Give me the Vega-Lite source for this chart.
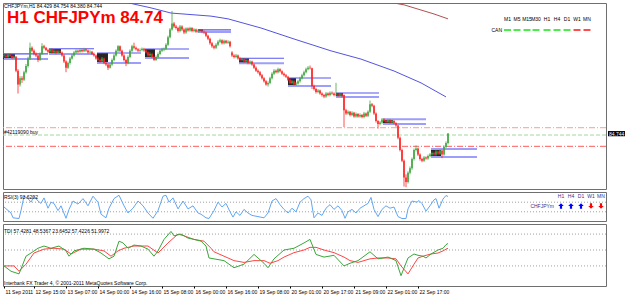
{
"$schema": "https://vega.github.io/schema/vega-lite/v6.json",
"background": "#ffffff",
"padding": {"left": 2, "top": 2, "right": 0, "bottom": 0},
"spacing": 3,
"bounds": "flush",
"config": {
  "view": {"stroke": "#6f6f6f", "strokeWidth": 1},
  "axis": {"labelFont": "Liberation Sans", "labelFontSize": 5, "labelColor": "#000000", "tickColor": "#000000", "domain": false, "grid": false, "labelOverlap": false, "labelFlush": false},
  "text": {"font": "Liberation Sans"},
  "title": {"font": "Liberation Sans", "anchor": "start", "frame": "group", "fontWeight": "normal", "color": "#000000", "fontSize": 5}
},
"datasets": {
"k": [
{"i":0,"o":87.28,"h":87.36,"l":87.22,"c":87.30},{"i":1,"o":87.30,"h":87.34,"l":87.20,"c":87.25},{"i":2,"o":87.25,"h":87.37,"l":87.21,"c":87.32},{"i":3,"o":87.32,"h":87.36,"l":87.24,"c":87.28},{"i":4,"o":87.28,"h":87.31,"l":87.18,"c":87.22},{"i":5,"o":87.22,"h":87.30,"l":87.18,"c":87.26},{"i":6,"o":87.26,"h":87.28,"l":86.75,"c":86.80},{"i":7,"o":86.80,"h":86.85,"l":86.05,"c":86.35},{"i":8,"o":86.35,"h":86.62,"l":86.28,"c":86.55},{"i":9,"o":86.55,"h":86.62,"l":86.40,"c":86.50},
{"i":10,"o":86.50,"h":86.80,"l":86.46,"c":86.75},{"i":11,"o":86.75,"h":87.02,"l":86.70,"c":86.95},{"i":12,"o":86.95,"h":87.26,"l":86.90,"c":87.20},{"i":13,"o":87.20,"h":87.72,"l":87.15,"c":87.55},{"i":14,"o":87.55,"h":87.60,"l":87.40,"c":87.45},{"i":15,"o":87.45,"h":87.50,"l":87.30,"c":87.35},{"i":16,"o":87.35,"h":87.40,"l":87.24,"c":87.30},{"i":17,"o":87.30,"h":87.33,"l":87.08,"c":87.15},{"i":18,"o":87.15,"h":87.40,"l":87.12,"c":87.35},{"i":19,"o":87.35,"h":87.70,"l":87.32,"c":87.60},
{"i":20,"o":87.60,"h":87.65,"l":87.50,"c":87.55},{"i":21,"o":87.55,"h":87.58,"l":87.44,"c":87.48},{"i":22,"o":87.48,"h":87.52,"l":87.38,"c":87.42},{"i":23,"o":87.42,"h":87.54,"l":87.38,"c":87.50},{"i":24,"o":87.50,"h":87.53,"l":87.36,"c":87.40},{"i":25,"o":87.40,"h":87.50,"l":87.36,"c":87.45},{"i":26,"o":87.45,"h":87.48,"l":87.34,"c":87.38},{"i":27,"o":87.38,"h":87.48,"l":87.35,"c":87.44},{"i":28,"o":87.44,"h":87.47,"l":87.36,"c":87.40},{"i":29,"o":87.40,"h":87.43,"l":87.26,"c":87.30},
{"i":30,"o":87.30,"h":87.33,"l":87.05,"c":87.10},{"i":31,"o":87.10,"h":87.14,"l":86.75,"c":86.90},{"i":32,"o":86.90,"h":87.10,"l":86.86,"c":87.05},{"i":33,"o":87.05,"h":87.25,"l":87.00,"c":87.20},{"i":34,"o":87.20,"h":87.35,"l":87.16,"c":87.30},{"i":35,"o":87.30,"h":87.45,"l":87.26,"c":87.40},{"i":36,"o":87.40,"h":87.50,"l":87.36,"c":87.45},{"i":37,"o":87.45,"h":87.49,"l":87.38,"c":87.42},{"i":38,"o":87.42,"h":87.53,"l":87.39,"c":87.48},{"i":39,"o":87.48,"h":87.52,"l":87.40,"c":87.44},
{"i":40,"o":87.44,"h":87.55,"l":87.41,"c":87.50},{"i":41,"o":87.50,"h":87.53,"l":87.42,"c":87.46},{"i":42,"o":87.46,"h":87.49,"l":87.36,"c":87.40},{"i":43,"o":87.40,"h":87.47,"l":87.37,"c":87.42},{"i":44,"o":87.42,"h":87.45,"l":87.31,"c":87.35},{"i":45,"o":87.35,"h":87.39,"l":87.26,"c":87.30},{"i":46,"o":87.30,"h":87.33,"l":87.16,"c":87.20},{"i":47,"o":87.20,"h":87.25,"l":87.10,"c":87.15},{"i":48,"o":87.15,"h":87.19,"l":87.06,"c":87.10},{"i":49,"o":87.10,"h":87.25,"l":87.07,"c":87.20},
{"i":50,"o":87.20,"h":87.23,"l":87.01,"c":87.05},{"i":51,"o":87.05,"h":87.09,"l":86.95,"c":87.00},{"i":52,"o":87.00,"h":87.04,"l":86.82,"c":86.90},{"i":53,"o":86.90,"h":87.05,"l":86.87,"c":87.00},{"i":54,"o":87.00,"h":87.20,"l":86.96,"c":87.15},{"i":55,"o":87.15,"h":87.35,"l":87.11,"c":87.30},{"i":56,"o":87.30,"h":87.50,"l":87.26,"c":87.45},{"i":57,"o":87.45,"h":87.64,"l":87.41,"c":87.60},{"i":58,"o":87.60,"h":87.63,"l":87.41,"c":87.45},{"i":59,"o":87.45,"h":87.49,"l":87.26,"c":87.30},
{"i":60,"o":87.30,"h":87.34,"l":87.10,"c":87.15},{"i":61,"o":87.15,"h":87.19,"l":86.95,"c":87.05},{"i":62,"o":87.05,"h":87.30,"l":87.01,"c":87.25},{"i":63,"o":87.25,"h":87.50,"l":87.21,"c":87.45},{"i":64,"o":87.45,"h":87.65,"l":87.41,"c":87.60},{"i":65,"o":87.60,"h":87.72,"l":87.50,"c":87.55},{"i":66,"o":87.55,"h":87.59,"l":87.46,"c":87.50},{"i":67,"o":87.50,"h":87.54,"l":87.41,"c":87.45},{"i":68,"o":87.45,"h":87.53,"l":87.41,"c":87.48},{"i":69,"o":87.48,"h":87.56,"l":87.44,"c":87.52},
{"i":70,"o":87.52,"h":87.55,"l":87.42,"c":87.46},{"i":71,"o":87.46,"h":87.50,"l":87.36,"c":87.40},{"i":72,"o":87.40,"h":87.43,"l":87.26,"c":87.30},{"i":73,"o":87.30,"h":87.40,"l":87.26,"c":87.35},{"i":74,"o":87.35,"h":87.38,"l":87.21,"c":87.25},{"i":75,"o":87.25,"h":87.28,"l":87.12,"c":87.15},{"i":76,"o":87.15,"h":87.30,"l":87.12,"c":87.25},{"i":77,"o":87.25,"h":87.40,"l":87.21,"c":87.35},{"i":78,"o":87.35,"h":87.50,"l":87.31,"c":87.45},{"i":79,"o":87.45,"h":87.55,"l":87.41,"c":87.50},
{"i":80,"o":87.50,"h":87.56,"l":87.44,"c":87.52},{"i":81,"o":87.52,"h":87.70,"l":87.48,"c":87.65},{"i":82,"o":87.65,"h":87.95,"l":87.61,"c":87.90},{"i":83,"o":87.90,"h":88.20,"l":87.86,"c":88.15},{"i":84,"o":88.15,"h":88.76,"l":88.11,"c":88.35},{"i":85,"o":88.35,"h":88.40,"l":88.20,"c":88.25},{"i":86,"o":88.25,"h":88.30,"l":88.15,"c":88.20},{"i":87,"o":88.20,"h":88.24,"l":88.05,"c":88.10},{"i":88,"o":88.10,"h":88.30,"l":88.06,"c":88.25},{"i":89,"o":88.25,"h":88.29,"l":88.10,"c":88.15},
{"i":90,"o":88.15,"h":88.19,"l":88.00,"c":88.05},{"i":91,"o":88.05,"h":88.22,"l":88.01,"c":88.18},{"i":92,"o":88.18,"h":88.22,"l":88.08,"c":88.12},{"i":93,"o":88.12,"h":88.24,"l":88.08,"c":88.20},{"i":94,"o":88.20,"h":88.23,"l":88.06,"c":88.10},{"i":95,"o":88.10,"h":88.19,"l":88.06,"c":88.15},{"i":96,"o":88.15,"h":88.18,"l":88.04,"c":88.08},{"i":97,"o":88.08,"h":88.16,"l":88.04,"c":88.12},{"i":98,"o":88.12,"h":88.15,"l":88.06,"c":88.10},{"i":99,"o":88.10,"h":88.14,"l":88.03,"c":88.08},
{"i":100,"o":88.08,"h":88.12,"l":88.00,"c":88.05},{"i":101,"o":88.05,"h":88.08,"l":87.90,"c":87.95},{"i":102,"o":87.95,"h":87.98,"l":87.80,"c":87.85},{"i":103,"o":87.85,"h":87.88,"l":87.65,"c":87.70},{"i":104,"o":87.70,"h":87.74,"l":87.55,"c":87.60},{"i":105,"o":87.60,"h":87.64,"l":87.50,"c":87.55},{"i":106,"o":87.55,"h":87.70,"l":87.51,"c":87.65},{"i":107,"o":87.65,"h":87.80,"l":87.61,"c":87.75},{"i":108,"o":87.75,"h":87.85,"l":87.71,"c":87.80},{"i":109,"o":87.80,"h":87.83,"l":87.66,"c":87.70},
{"i":110,"o":87.70,"h":87.82,"l":87.66,"c":87.78},{"i":111,"o":87.78,"h":87.81,"l":87.68,"c":87.72},{"i":112,"o":87.72,"h":87.80,"l":87.68,"c":87.75},{"i":113,"o":87.75,"h":87.78,"l":87.56,"c":87.60},{"i":114,"o":87.40,"h":87.44,"l":87.25,"c":87.30},{"i":115,"o":87.30,"h":87.34,"l":87.20,"c":87.25},{"i":116,"o":87.25,"h":87.35,"l":87.21,"c":87.30},{"i":117,"o":87.30,"h":87.33,"l":87.16,"c":87.20},{"i":118,"o":87.20,"h":87.24,"l":87.10,"c":87.15},{"i":119,"o":87.15,"h":87.22,"l":87.11,"c":87.18},
{"i":120,"o":87.18,"h":87.21,"l":87.06,"c":87.10},{"i":121,"o":87.10,"h":87.19,"l":87.06,"c":87.15},{"i":122,"o":87.15,"h":87.18,"l":87.01,"c":87.05},{"i":123,"o":87.05,"h":87.14,"l":87.01,"c":87.10},{"i":124,"o":87.10,"h":87.13,"l":86.96,"c":87.00},{"i":125,"o":87.00,"h":87.03,"l":86.86,"c":86.90},{"i":126,"o":86.90,"h":86.94,"l":86.76,"c":86.80},{"i":127,"o":86.80,"h":86.84,"l":86.70,"c":86.75},{"i":128,"o":86.75,"h":86.79,"l":86.61,"c":86.65},{"i":129,"o":86.65,"h":86.69,"l":86.51,"c":86.55},
{"i":130,"o":86.55,"h":86.59,"l":86.41,"c":86.45},{"i":131,"o":86.45,"h":86.49,"l":86.31,"c":86.35},{"i":132,"o":86.35,"h":86.45,"l":86.28,"c":86.40},{"i":133,"o":86.40,"h":86.60,"l":86.36,"c":86.55},{"i":134,"o":86.55,"h":86.75,"l":86.51,"c":86.70},{"i":135,"o":86.70,"h":86.85,"l":86.66,"c":86.80},{"i":136,"o":86.80,"h":86.84,"l":86.71,"c":86.75},{"i":137,"o":86.75,"h":86.90,"l":86.71,"c":86.85},{"i":138,"o":86.85,"h":86.88,"l":86.74,"c":86.78},{"i":139,"o":86.78,"h":86.81,"l":86.66,"c":86.70},
{"i":140,"o":86.70,"h":86.74,"l":86.61,"c":86.65},{"i":141,"o":86.65,"h":86.69,"l":86.56,"c":86.60},{"i":142,"o":86.60,"h":86.63,"l":86.46,"c":86.50},{"i":143,"o":86.50,"h":86.54,"l":86.36,"c":86.40},{"i":144,"o":86.40,"h":86.50,"l":86.36,"c":86.45},{"i":145,"o":86.45,"h":86.48,"l":86.31,"c":86.35},{"i":146,"o":86.35,"h":86.43,"l":86.31,"c":86.38},{"i":147,"o":86.38,"h":86.50,"l":86.34,"c":86.45},{"i":148,"o":86.45,"h":86.60,"l":86.41,"c":86.55},{"i":149,"o":86.55,"h":86.70,"l":86.51,"c":86.65},
{"i":150,"o":86.65,"h":86.80,"l":86.61,"c":86.75},{"i":151,"o":86.75,"h":86.90,"l":86.71,"c":86.85},{"i":152,"o":86.85,"h":86.95,"l":86.81,"c":86.90},{"i":153,"o":86.90,"h":86.97,"l":86.84,"c":86.88},{"i":154,"o":86.88,"h":86.90,"l":86.20,"c":86.30},{"i":155,"o":86.30,"h":86.34,"l":86.15,"c":86.20},{"i":156,"o":86.20,"h":86.24,"l":86.05,"c":86.10},{"i":157,"o":86.10,"h":86.20,"l":86.06,"c":86.15},{"i":158,"o":86.15,"h":86.18,"l":86.01,"c":86.05},{"i":159,"o":86.05,"h":86.09,"l":85.95,"c":86.00},
{"i":160,"o":86.00,"h":86.04,"l":85.90,"c":85.95},{"i":161,"o":85.95,"h":86.10,"l":85.91,"c":86.05},{"i":162,"o":86.05,"h":86.09,"l":85.96,"c":86.00},{"i":163,"o":86.00,"h":86.12,"l":85.96,"c":86.08},{"i":164,"o":86.08,"h":86.12,"l":86.01,"c":86.05},{"i":165,"o":86.05,"h":86.09,"l":85.96,"c":86.00},{"i":166,"o":86.00,"h":86.40,"l":85.96,"c":86.02},{"i":167,"o":86.02,"h":86.06,"l":85.94,"c":85.98},{"i":168,"o":85.98,"h":86.07,"l":85.94,"c":86.03},{"i":169,"o":86.03,"h":86.06,"l":85.92,"c":85.96},
{"i":170,"o":86.00,"h":86.02,"l":84.95,"c":85.50},{"i":171,"o":85.50,"h":85.55,"l":85.35,"c":85.40},{"i":172,"o":85.40,"h":85.50,"l":85.36,"c":85.45},{"i":173,"o":85.45,"h":85.48,"l":85.30,"c":85.35},{"i":174,"o":85.35,"h":85.47,"l":85.31,"c":85.42},{"i":175,"o":85.42,"h":85.45,"l":85.26,"c":85.30},{"i":176,"o":85.30,"h":85.43,"l":85.26,"c":85.38},{"i":177,"o":85.38,"h":85.41,"l":85.26,"c":85.30},{"i":178,"o":85.30,"h":85.40,"l":85.26,"c":85.35},{"i":179,"o":85.35,"h":85.38,"l":85.24,"c":85.28},
{"i":180,"o":85.28,"h":85.45,"l":85.24,"c":85.40},{"i":181,"o":85.40,"h":85.43,"l":85.28,"c":85.32},{"i":182,"o":85.32,"h":85.50,"l":85.28,"c":85.45},{"i":183,"o":85.45,"h":85.82,"l":85.41,"c":85.70},{"i":184,"o":85.70,"h":85.74,"l":85.60,"c":85.65},{"i":185,"o":85.65,"h":85.68,"l":85.35,"c":85.40},{"i":186,"o":85.40,"h":85.43,"l":85.10,"c":85.15},{"i":187,"o":85.15,"h":85.18,"l":84.90,"c":85.05},{"i":188,"o":85.05,"h":85.15,"l":85.01,"c":85.10},{"i":189,"o":85.10,"h":85.25,"l":85.06,"c":85.20},
{"i":190,"o":85.20,"h":85.24,"l":85.11,"c":85.15},{"i":191,"o":85.15,"h":85.19,"l":85.08,"c":85.12},{"i":192,"o":85.12,"h":85.22,"l":85.08,"c":85.18},{"i":193,"o":85.18,"h":85.21,"l":85.06,"c":85.10},{"i":194,"o":85.10,"h":85.19,"l":85.06,"c":85.15},{"i":195,"o":85.15,"h":85.18,"l":85.04,"c":85.08},{"i":196,"o":85.08,"h":85.11,"l":84.96,"c":85.00},{"i":197,"o":85.00,"h":85.03,"l":84.55,"c":84.60},{"i":198,"o":84.60,"h":84.64,"l":84.15,"c":84.20},{"i":199,"o":84.20,"h":84.24,"l":83.80,"c":83.85},
{"i":200,"o":83.85,"h":83.89,"l":83.00,"c":83.30},{"i":201,"o":83.30,"h":83.40,"l":82.98,"c":83.15},{"i":202,"o":83.15,"h":83.50,"l":83.10,"c":83.45},{"i":203,"o":83.45,"h":83.66,"l":83.40,"c":83.60},{"i":204,"o":83.60,"h":83.95,"l":83.55,"c":83.90},{"i":205,"o":83.90,"h":84.25,"l":83.85,"c":84.20},{"i":206,"o":84.20,"h":84.35,"l":84.15,"c":84.25},{"i":207,"o":84.25,"h":84.28,"l":84.00,"c":84.05},{"i":208,"o":84.05,"h":84.09,"l":83.85,"c":83.90},{"i":209,"o":83.90,"h":83.94,"l":83.80,"c":83.85},
{"i":210,"o":83.85,"h":84.00,"l":83.81,"c":83.95},{"i":211,"o":83.95,"h":83.99,"l":83.88,"c":83.92},{"i":212,"o":83.92,"h":84.05,"l":83.88,"c":84.00},{"i":213,"o":84.00,"h":84.10,"l":83.96,"c":84.05},{"i":214,"o":84.05,"h":84.15,"l":84.01,"c":84.10},{"i":215,"o":84.10,"h":84.14,"l":84.01,"c":84.05},{"i":216,"o":84.05,"h":84.20,"l":84.01,"c":84.15},{"i":217,"o":84.15,"h":84.18,"l":84.04,"c":84.08},{"i":218,"o":84.08,"h":84.22,"l":84.04,"c":84.18},{"i":219,"o":84.18,"h":84.21,"l":83.93,"c":84.05},
{"i":220,"o":84.05,"h":84.35,"l":84.01,"c":84.30},{"i":221,"o":84.30,"h":84.48,"l":84.26,"c":84.43},{"i":222,"o":84.429,"h":84.754,"l":84.38,"c":84.744}
],
"bx": [
{"a":-0.5,"b":5.5,"lo":87.18,"hi":87.35},{"a":22.5,"b":28.5,"lo":87.35,"hi":87.51},{"a":46.5,"b":52,"lo":87.05,"hi":87.38},{"a":70.5,"b":75.5,"lo":87.22,"hi":87.51},{"a":97,"b":99.5,"lo":88.04,"hi":88.16},{"a":117.5,"b":122.5,"lo":87.02,"hi":87.21},{"a":142,"b":146,"lo":86.30,"hi":86.56},{"a":166,"b":169.5,"lo":85.94,"hi":86.07},{"a":189.5,"b":194.5,"lo":85.05,"hi":85.21},{"a":213.5,"b":218.5,"lo":83.97,"hi":84.23}
],
"bl": [
{"a":0,"b":22,"p":87.35,"t":"u"},{"a":0,"b":22,"p":87.18,"t":"l"},
{"a":22.5,"b":45,"p":87.52,"t":"u"},{"a":22.5,"b":45,"p":87.35,"t":"l"},
{"a":46.5,"b":68.5,"p":87.38,"t":"u"},{"a":46.5,"b":68.5,"p":87.05,"t":"l"},
{"a":70.5,"b":92.5,"p":87.51,"t":"u"},{"a":70.5,"b":92.5,"p":87.22,"t":"l"},
{"a":97,"b":113.5,"p":88.14,"t":"u"},{"a":97,"b":113.5,"p":88.07,"t":"l"},
{"a":117.5,"b":140,"p":87.21,"t":"u"},{"a":117.5,"b":140,"p":87.04,"t":"l"},
{"a":142,"b":163.5,"p":86.56,"t":"u"},{"a":142,"b":163.5,"p":86.30,"t":"l"},
{"a":166,"b":187.5,"p":86.07,"t":"u"},{"a":166,"b":187.5,"p":85.94,"t":"l"},
{"a":189.5,"b":211,"p":85.21,"t":"l"},{"a":189.5,"b":211,"p":85.05,"t":"l"},
{"a":213.5,"b":236.5,"p":84.23,"t":"l"},{"a":213.5,"b":236.5,"p":83.97,"t":"l"}
],
"ma": [
{"i":60,"p":89.10,"s":"b"},{"i":62.5,"p":89.02,"s":"b"},{"i":73.5,"p":88.86,"s":"b"},{"i":83.5,"p":88.69,"s":"b"},{"i":103.5,"p":88.59,"s":"b"},{"i":112,"p":88.50,"s":"b"},{"i":128.5,"p":88.20,"s":"b"},{"i":145,"p":87.84,"s":"b"},{"i":163.5,"p":87.45,"s":"b"},{"i":178.5,"p":87.18,"s":"b"},{"i":195,"p":86.79,"s":"b"},{"i":208.5,"p":86.40,"s":"b"},{"i":221,"p":85.94,"s":"b"},
{"i":188,"p":89.10,"s":"r"},{"i":200,"p":88.96,"s":"r"},{"i":208,"p":88.80,"s":"r"},{"i":215,"p":88.66,"s":"r"},{"i":222,"p":88.50,"s":"r"}
],
"hl": [{"p":84.93,"k":"a"},{"p":84.69,"k":"b"},{"p":84.32,"k":"c"}],
"tf": [
{"n":"M1","i":251.75,"c":"g"},{"n":"M5","i":256.5,"c":"g"},{"n":"M15","i":261.5,"c":"g"},{"n":"M30","i":266,"c":"g"},{"n":"H1","i":271.5,"c":"g"},{"n":"H4","i":276.5,"c":"g"},{"n":"D1","i":281.5,"c":"g"},{"n":"W1","i":286.5,"c":"r"},{"n":"MN","i":291.5,"c":"r"}
],
"rtf": [
{"n":"H1","i":278.5,"d":"up"},{"n":"H4","i":283.5,"d":"up"},{"n":"D1","i":288.5,"d":"up"},{"n":"W1","i":293.5,"d":"dn"},{"n":"MN","i":298.5,"d":"dn"}
],
"rsi": [
{"i":0,"v":50},{"i":3.5,"v":25},{"i":4.5,"v":5},{"i":7.5,"v":2},{"i":8.5,"v":35},{"i":10,"v":95},{"i":12,"v":85},{"i":13.5,"v":70},{"i":15,"v":95},{"i":17,"v":75},{"i":18.5,"v":65},{"i":20,"v":88},{"i":22,"v":45},{"i":23.5,"v":70},{"i":25,"v":65},{"i":27,"v":35},{"i":28.5,"v":55},{"i":31,"v":3},{"i":32.5,"v":40},{"i":34.5,"v":75},{"i":37,"v":62},{"i":39.5,"v":85},{"i":42,"v":55},{"i":44.5,"v":95},{"i":47,"v":70},{"i":48.5,"v":20},{"i":51,"v":5},{"i":52.5,"v":45},{"i":55,"v":85},{"i":57.5,"v":99},{"i":60,"v":55},{"i":62,"v":25},{"i":64.5,"v":45},{"i":67,"v":75},{"i":69.5,"v":55},{"i":72,"v":25},{"i":74.5,"v":3},{"i":77,"v":35},{"i":79.5,"v":95},{"i":81,"v":99},{"i":82.5,"v":70},{"i":84.5,"v":88},{"i":87,"v":42},{"i":89.5,"v":75},{"i":92,"v":42},{"i":94.5,"v":55},{"i":97,"v":25},{"i":98.5,"v":20},{"i":101,"v":5},{"i":102.5,"v":2},
{"i":105,"v":35},{"i":107,"v":70},{"i":109,"v":50},{"i":111,"v":65},{"i":113,"v":30},{"i":114.5,"v":8},{"i":116,"v":30},{"i":118,"v":15},{"i":120,"v":40},{"i":122,"v":25},{"i":124,"v":15},{"i":127,"v":10},{"i":130,"v":5},{"i":132,"v":25},{"i":134,"v":75},{"i":136,"v":85},{"i":138,"v":60},{"i":140,"v":40},{"i":142,"v":25},{"i":144,"v":45},{"i":146,"v":30},{"i":148,"v":70},{"i":150,"v":85},{"i":152,"v":95},{"i":153.5,"v":80},{"i":155,"v":5},{"i":157,"v":25},{"i":159,"v":15},{"i":161,"v":45},{"i":163,"v":60},{"i":165,"v":40},{"i":167,"v":55},{"i":169,"v":35},{"i":170.5,"v":3},{"i":172,"v":30},{"i":174,"v":40},{"i":176,"v":25},{"i":178,"v":45},{"i":180,"v":55},{"i":182,"v":65},{"i":183.5,"v":90},{"i":185,"v":40},{"i":187,"v":10},{"i":189,"v":40},{"i":191,"v":55},{"i":193,"v":45},{"i":195,"v":50},{"i":197,"v":10},{"i":199,"v":2},{"i":201,"v":2},
{"i":202,"v":42},{"i":204,"v":75},{"i":206.5,"v":70},{"i":207.5,"v":77},{"i":209,"v":64},{"i":211,"v":33},{"i":213,"v":55},{"i":215,"v":80},{"i":216,"v":85},{"i":217.5,"v":45},{"i":219.5,"v":83},{"i":221,"v":98},{"i":222,"v":93.6}
],
"tg": [
{"i":0,"v":32},{"i":3.5,"v":26},{"i":7.5,"v":23},{"i":8.5,"v":28.6},{"i":11,"v":43},{"i":13.5,"v":46.6},{"i":17,"v":52},{"i":20,"v":54.5},{"i":23.5,"v":52},{"i":27.5,"v":54.5},{"i":31,"v":49},{"i":32.5,"v":43},{"i":35,"v":49},{"i":40,"v":52},{"i":45,"v":51},{"i":48.5,"v":46.6},{"i":52.5,"v":40},{"i":55,"v":43},{"i":57.5,"v":60},{"i":59.5,"v":58},{"i":62,"v":52},{"i":65,"v":55.6},{"i":68.5,"v":54.5},{"i":72,"v":51},{"i":75,"v":43},{"i":77,"v":49},{"i":80,"v":62},{"i":83.5,"v":71},{"i":85,"v":66},{"i":88.5,"v":68},{"i":92,"v":63.5},{"i":95,"v":62},{"i":98.5,"v":60},{"i":101,"v":54.5},{"i":102.5,"v":41},{"i":105,"v":40},{"i":110,"v":38},{"i":115,"v":30},{"i":120,"v":34},{"i":125,"v":45},{"i":130,"v":35},{"i":132,"v":30},{"i":135,"v":40},{"i":140,"v":50},{"i":145,"v":52},{"i":150,"v":58},{"i":153,"v":62},{"i":156,"v":45},{"i":160,"v":42},{"i":165,"v":44},{"i":170,"v":32},{"i":173,"v":35},{"i":177,"v":38},{"i":183,"v":48},{"i":187,"v":40},{"i":192,"v":42},{"i":196,"v":38},{"i":198.5,"v":21},{"i":202,"v":41},{"i":205,"v":45.5},{"i":207,"v":44},{"i":209.5,"v":43},{"i":211,"v":41},{"i":213.5,"v":45.5},{"i":217,"v":50},{"i":219.5,"v":52},{"i":221,"v":56},{"i":222,"v":57.4}
],
"tr": [
{"i":0,"v":32},{"i":5,"v":32},{"i":7.5,"v":26},{"i":11,"v":34},{"i":15,"v":46.6},{"i":20,"v":51},{"i":25,"v":52},{"i":30,"v":51},{"i":33.5,"v":45.5},{"i":38.5,"v":51},{"i":45,"v":51},{"i":50,"v":49},{"i":53.5,"v":43},{"i":57,"v":49},{"i":60,"v":52},{"i":65,"v":54.5},{"i":72,"v":54.5},{"i":77,"v":46.6},{"i":82,"v":58},{"i":87,"v":68},{"i":90,"v":66},{"i":95,"v":62},{"i":100,"v":60},{"i":103.5,"v":52},{"i":105,"v":48},{"i":110,"v":43},{"i":115,"v":38},{"i":120,"v":36},{"i":125,"v":38},{"i":130,"v":38},{"i":133,"v":35},{"i":137,"v":38},{"i":140,"v":42},{"i":145,"v":47},{"i":150,"v":50},{"i":153,"v":53},{"i":156,"v":53},{"i":160,"v":50},{"i":165,"v":47},{"i":170,"v":42},{"i":173,"v":38},{"i":177,"v":36},{"i":183,"v":40},{"i":187,"v":41},{"i":192,"v":41},{"i":196,"v":40},{"i":198.5,"v":32},{"i":202,"v":23},{"i":205,"v":34},{"i":207,"v":41},{"i":209.5,"v":43},{"i":211,"v":44},{"i":213.5,"v":45.5},{"i":217,"v":46.6},{"i":219.5,"v":49},{"i":221,"v":51},{"i":222,"v":52}
]
},
"vconcat": [
{
 "width": 603, "height": 186,
 "title": {"text": "H1 CHFJPYm 84.74", "offset": -23.5, "dx": 4, "fontSize": 17, "fontWeight": "bold", "color": "#ff0000"},
 "resolve": {"scale": {"color": "independent", "strokeDash": "independent", "strokeWidth": "independent"}},
 "layer": [
  {"data": {"name": "hl"}, "mark": {"type": "rule", "strokeWidth": 1},
   "encoding": {
    "y": {"field": "p", "type": "quantitative", "scale": {"domain": [82.92, 89.02], "nice": false, "zero": false},
          "axis": {"orient": "right", "values": [88.67, 88.16, 87.635, 87.11, 86.585, 86.06, 85.55, 85.025, 84.5, 83.975, 83.45, 82.94], "format": ".3f", "tickSize": 2, "labelPadding": 1, "title": null}},
    "color": {"field": "k", "type": "nominal", "scale": {"domain": ["a", "b", "c"], "range": ["#ff9a9a", "#9fd89f", "#ff5a5a"]}, "legend": null},
    "strokeDash": {"field": "k", "type": "nominal", "scale": {"domain": ["a", "b", "c"], "range": [[6, 2, 1, 2], [4, 2], [6, 2, 1, 2]]}, "legend": null}
   }},
  {"data": {"name": "bx"}, "mark": {"type": "rect", "fill": "#262626"},
   "encoding": {
    "x": {"field": "a", "type": "quantitative", "scale": {"domain": [-0.5, 301], "nice": false, "zero": false}, "axis": null},
    "x2": {"field": "b"},
    "y": {"field": "lo", "type": "quantitative", "scale": {"domain": [82.92, 89.02], "nice": false, "zero": false}, "axis": null},
    "y2": {"field": "hi"}
   }},
  {"data": {"name": "bl"}, "mark": {"type": "rule"},
   "encoding": {
    "x": {"field": "a", "type": "quantitative", "scale": {"domain": [-0.5, 301], "nice": false, "zero": false}, "axis": null},
    "x2": {"field": "b"},
    "y": {"field": "p", "type": "quantitative", "scale": {"domain": [82.92, 89.02], "nice": false, "zero": false}, "axis": null},
    "color": {"field": "t", "type": "nominal", "scale": {"domain": ["u", "l"], "range": ["#5656f2", "#9d9dfb"]}, "legend": null},
    "strokeWidth": {"field": "t", "type": "nominal", "scale": {"domain": ["u", "l"], "range": [1.1, 2]}, "legend": null}
   }},
  {"data": {"name": "ma"}, "mark": {"type": "line", "clip": true, "strokeWidth": 1},
   "encoding": {
    "x": {"field": "i", "type": "quantitative", "scale": {"domain": [-0.5, 301], "nice": false, "zero": false}, "axis": null},
    "y": {"field": "p", "type": "quantitative", "scale": {"domain": [82.92, 89.02], "nice": false, "zero": false}, "axis": null},
    "color": {"field": "s", "type": "nominal", "scale": {"domain": ["b", "r"], "range": ["#5353e0", "#b05050"]}, "legend": null}
   }},
  {"data": {"name": "k"}, "mark": {"type": "rule", "strokeWidth": 0.8},
   "encoding": {
    "x": {"field": "i", "type": "quantitative", "scale": {"domain": [-0.5, 301], "nice": false, "zero": false}, "axis": null},
    "y": {"field": "l", "type": "quantitative", "scale": {"domain": [82.92, 89.02], "nice": false, "zero": false}, "axis": null},
    "y2": {"field": "h"},
    "color": {"condition": {"test": "datum.c >= datum.o", "value": "#3fa63f"}, "value": "#ff2424"}
   }},
  {"data": {"name": "k"}, "mark": {"type": "rule", "strokeWidth": 1.6},
   "encoding": {
    "x": {"field": "i", "type": "quantitative", "scale": {"domain": [-0.5, 301], "nice": false, "zero": false}, "axis": null},
    "y": {"field": "o", "type": "quantitative", "scale": {"domain": [82.92, 89.02], "nice": false, "zero": false}, "axis": null},
    "y2": {"field": "c"},
    "color": {"condition": {"test": "datum.c >= datum.o", "value": "#3fa63f"}, "value": "#ff2424"}
   }},
  {"data": {"values": [{"t": "CHFJPYm,H1  84.429 84.754 84.380 84.744"}]}, "mark": {"type": "text", "align": "left", "baseline": "alphabetic", "fontSize": 5, "color": "#000000"},
   "encoding": {"x": {"datum": 0, "type": "quantitative"}, "y": {"datum": 88.86, "type": "quantitative"}, "text": {"field": "t"}}},
  {"data": {"values": [{"t": "#42119090 buy"}]}, "mark": {"type": "text", "align": "left", "baseline": "alphabetic", "fontSize": 5, "color": "#000000"},
   "encoding": {"x": {"datum": 0, "type": "quantitative"}, "y": {"datum": 84.71, "type": "quantitative"}, "text": {"field": "t"}}},
  {"data": {"name": "tf"}, "mark": {"type": "text", "align": "center", "baseline": "middle", "fontSize": 5, "color": "#000000"},
   "encoding": {"x": {"field": "i", "type": "quantitative"}, "y": {"datum": 88.506, "type": "quantitative"}, "text": {"field": "n"}}},
  {"data": {"name": "tf"}, "mark": {"type": "tick", "orient": "horizontal", "size": 7, "thickness": 2},
   "encoding": {"x": {"field": "i", "type": "quantitative"}, "y": {"datum": 88.135, "type": "quantitative"},
    "color": {"field": "c", "type": "nominal", "scale": {"domain": ["g", "r"], "range": ["#00e400", "#ff0000"]}, "legend": null}}},
  {"data": {"values": [{"t": "CAN"}]}, "mark": {"type": "text", "align": "right", "baseline": "middle", "fontSize": 5, "color": "#000000"},
   "encoding": {"x": {"datum": 249, "type": "quantitative"}, "y": {"datum": 88.135, "type": "quantitative"}, "text": {"field": "t"}}},
  {"data": {"values": [{"t": "84.744"}]}, "mark": {"type": "rect", "fill": "#000000", "clip": false},
   "encoding": {"x": {"datum": 302, "type": "quantitative"}, "x2": {"datum": 311.5}, "y": {"datum": 84.82, "type": "quantitative"}, "y2": {"datum": 84.65}}},
  {"data": {"values": [{"t": "84.744"}]}, "mark": {"type": "text", "align": "left", "baseline": "middle", "fontSize": 5, "color": "#ffffff", "clip": false},
   "encoding": {"x": {"datum": 302.5, "type": "quantitative"}, "y": {"datum": 84.735, "type": "quantitative"}, "text": {"field": "t"}}}
 ]
},
{
 "width": 603, "height": 29,
 "title": {"text": "RSI(3) 93.6202", "offset": -8, "dx": 1},
 "layer": [
  {"data": {"values": [{"v": 70}, {"v": 30}]}, "mark": {"type": "rule", "strokeDash": [1, 2], "color": "#a0a0a0", "strokeWidth": 1},
   "encoding": {"y": {"field": "v", "type": "quantitative", "scale": {"domain": [-8.3, 112.5], "nice": false, "zero": false},
     "axis": {"orient": "right", "values": [100, 70, 30, 0], "tickSize": 2, "labelPadding": 1, "title": null}}}},
  {"data": {"name": "rsi"}, "mark": {"type": "line", "strokeWidth": 1, "color": "#62a6f4", "clip": true},
   "encoding": {
    "x": {"field": "i", "type": "quantitative", "scale": {"domain": [-0.5, 301], "nice": false, "zero": false}, "axis": null},
    "y": {"field": "v", "type": "quantitative", "scale": {"domain": [-8.3, 112.5], "nice": false, "zero": false}, "axis": null}
   }},
  {"data": {"name": "rtf"}, "mark": {"type": "text", "align": "center", "baseline": "middle", "fontSize": 5, "color": "#33338f"},
   "encoding": {"x": {"field": "i", "type": "quantitative"}, "y": {"datum": 96, "type": "quantitative"}, "text": {"field": "n"}}},
  {"data": {"name": "rtf"}, "mark": {"type": "point", "filled": true, "size": 30, "opacity": 1},
   "encoding": {"x": {"field": "i", "type": "quantitative"}, "y": {"datum": 54, "type": "quantitative"},
    "shape": {"field": "d", "type": "nominal", "scale": {"domain": ["up", "dn"], "range": ["M0,-1L1,0L0.4,0L0.4,1L-0.4,1L-0.4,0L-1,0Z", "M0,1L1,0L0.4,0L0.4,-1L-0.4,-1L-0.4,0L-1,0Z"]}, "legend": null},
    "color": {"field": "d", "type": "nominal", "scale": {"domain": ["up", "dn"], "range": ["#0000ff", "#ff0000"]}, "legend": null}}},
  {"data": {"values": [{"t": "CHFJPYm"}]}, "mark": {"type": "text", "align": "right", "baseline": "middle", "fontSize": 5, "color": "#33338f"},
   "encoding": {"x": {"datum": 275, "type": "quantitative"}, "y": {"datum": 54, "type": "quantitative"}, "text": {"field": "t"}}}
 ]
},
{
 "width": 603, "height": 62,
 "title": {"text": "TDI 57.4281 48.5367 23.6452 57.4226 51.9972", "offset": -9.5, "dx": 1},
 "layer": [
  {"data": {"values": [{"v": 68}, {"v": 50}, {"v": 32}]}, "mark": {"type": "rule", "strokeDash": [1, 2], "color": "#a0a0a0", "strokeWidth": 1},
   "encoding": {"y": {"field": "v", "type": "quantitative", "scale": {"domain": [9.32, 79.4], "nice": false, "zero": false},
     "axis": {"orient": "right", "values": [78.2644, 68, 50, 32, 9.3208], "labelExpr": "'' + datum.value", "tickSize": 2, "labelPadding": 1, "title": null}}}},
  {"data": {"name": "tr"}, "mark": {"type": "line", "strokeWidth": 1, "color": "#ff4545", "clip": true},
   "encoding": {
    "x": {"field": "i", "type": "quantitative", "scale": {"domain": [-0.5, 301], "nice": false, "zero": false},
      "axis": {"values": [0, 15, 31, 47, 63, 79, 95, 111, 127, 143, 159, 175, 191, 207], "labelExpr": "['11 Sep 2011','12 Sep 15:00','13 Sep 07:00','14 Sep 00:00','14 Sep 16:00','15 Sep 08:00','16 Sep 00:00','16 Sep 16:00','19 Sep 08:00','20 Sep 01:00','20 Sep 17:00','21 Sep 09:00','22 Sep 01:00','22 Sep 17:00'][indexof([0,15,31,47,63,79,95,111,127,143,159,175,191,207], datum.value)]", "labelAlign": "left", "labelBaseline": "top", "labelPadding": 1, "labelOffset": 1, "tickSize": 2, "title": null}},
    "y": {"field": "v", "type": "quantitative", "scale": {"domain": [9.32, 79.4], "nice": false, "zero": false}, "axis": null}
   }},
  {"data": {"name": "tg"}, "mark": {"type": "line", "strokeWidth": 1, "color": "#3aa63a", "clip": true},
   "encoding": {
    "x": {"field": "i", "type": "quantitative", "scale": {"domain": [-0.5, 301], "nice": false, "zero": false}},
    "y": {"field": "v", "type": "quantitative", "scale": {"domain": [9.32, 79.4], "nice": false, "zero": false}, "axis": null}
   }},
  {"data": {"values": [{"t": "Interbank FX Trader 4, © 2001-2011 MetaQuotes Software Corp."}]}, "mark": {"type": "text", "align": "left", "baseline": "alphabetic", "fontSize": 5, "color": "#000000"},
   "encoding": {"x": {"datum": 0, "type": "quantitative"}, "y": {"datum": 10.6, "type": "quantitative"}, "text": {"field": "t"}}}
 ]
}
]
}
